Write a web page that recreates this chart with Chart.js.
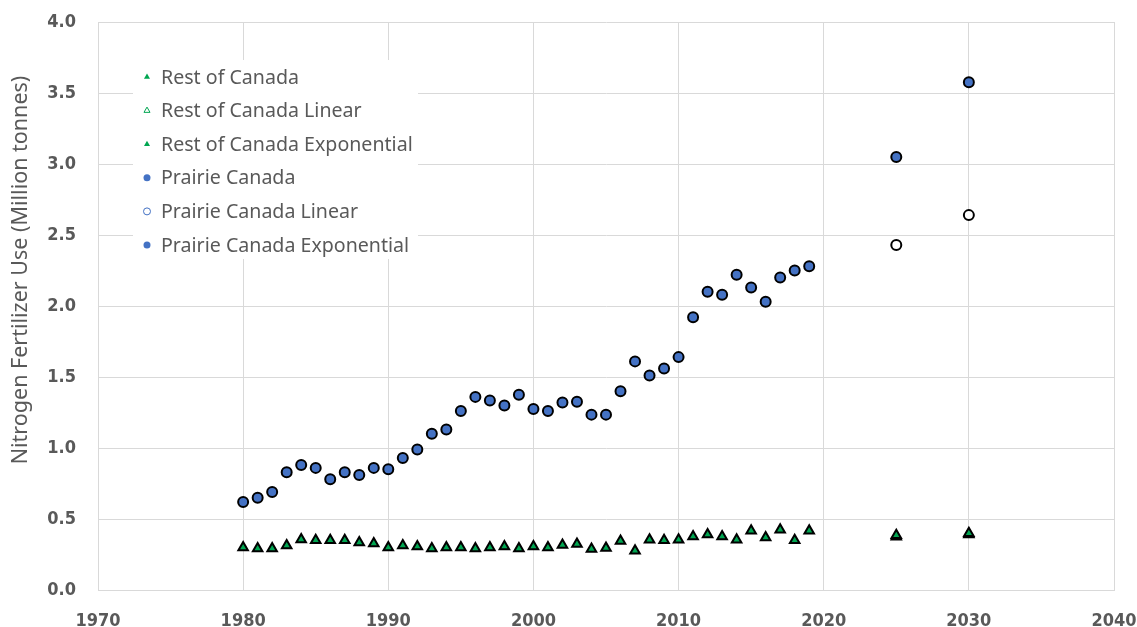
<!DOCTYPE html>
<html>
<head>
<meta charset="utf-8">
<script src="https://cdn.jsdelivr.net/npm/chart.js@4.4.1/dist/chart.umd.min.js"></script>
<style>
  html, body { margin: 0; padding: 0; background: #fff; }
  #wrap { width: 1137px; height: 627px; position: relative; }
</style>
</head>
<body>
<div id="wrap"><canvas id="fertChart"></canvas></div>
<script>
// historical years
const years = [1980, 1981, 1982, 1983, 1984, 1985, 1986, 1987, 1988, 1989,
  1990, 1991, 1992, 1993, 1994, 1995, 1996, 1997, 1998, 1999,
  2000, 2001, 2002, 2003, 2004, 2005, 2006, 2007, 2008, 2009,
  2010, 2011, 2012, 2013, 2014, 2015, 2016, 2017, 2018, 2019];

// nitrogen use, million tonnes
const prairieCanada = [0.62, 0.65, 0.69, 0.83, 0.88, 0.86, 0.78, 0.83, 0.81, 0.86,
  0.85, 0.93, 0.99, 1.10, 1.13, 1.26, 1.36, 1.335, 1.30, 1.375,
  1.275, 1.26, 1.32, 1.325, 1.235, 1.235, 1.40, 1.61, 1.51, 1.56,
  1.64, 1.92, 2.10, 2.08, 2.22, 2.13, 2.03, 2.20, 2.25, 2.28];

const restOfCanada = [0.30, 0.293, 0.293, 0.314, 0.356, 0.35, 0.35, 0.35, 0.335, 0.328,
  0.30, 0.314, 0.307, 0.293, 0.30, 0.30, 0.293, 0.30, 0.307, 0.293,
  0.307, 0.30, 0.317, 0.324, 0.289, 0.296, 0.345, 0.277, 0.354, 0.35,
  0.354, 0.377, 0.39, 0.377, 0.354, 0.418, 0.37, 0.425, 0.35, 0.418];

// projections
const projYears = [2025, 2030];
const restLinear = [0.375, 0.39];
const restExponential = [0.385, 0.40];
const prairieLinear = [2.43, 2.64];
const prairieExponential = [3.05, 3.575];

const xTicks = [1970, 1980, 1990, 2000, 2010, 2020, 2030, 2040];
const yTitle = "Nitrogen Fertilizer Use (Million tonnes)";

const green = "#00a651";
const blue = "#4472c4";
const gridColor = "#d9d9d9";
const textColor = "#595959";

function toPoints(xs, ys) {
  return xs.map((x, i) => ({ x: x, y: ys[i] }));
}

// white key box sitting on top of the gridlines, plus the y title
const keyBox = {
  id: "keyBox",
  beforeDatasetsDraw(chart) {
    const ctx = chart.ctx;
    ctx.save();
    ctx.fillStyle = "#fff";
    ctx.fillRect(133, 60, 285, 199);
    ctx.font = "19.6px 'Noto Sans', sans-serif";
    ctx.textBaseline = "middle";
    ctx.textAlign = "left";
    chart.data.datasets.forEach((ds, i) => {
      const y = 77 + i * 33.6;
      ctx.fillStyle = ds.keyFill;
      ctx.strokeStyle = ds.keyStroke;
      Chart.helpers.drawPoint(ctx, {
        pointStyle: ds.pointStyle,
        radius: 3.5,
        rotation: 0,
        borderWidth: ds.keyStroke ? 1 : 0
      }, 147, y);
      ctx.fillStyle = textColor;
      ctx.fillText(ds.label, 161, y + 1);
    });

    // axis title sits a little above the middle of the plot
    ctx.translate(21, 270);
    ctx.rotate(-Math.PI / 2);
    ctx.textAlign = "center";
    ctx.font = "21.5px 'Noto Sans', sans-serif";
    ctx.fillStyle = textColor;
    ctx.fillText(yTitle, 0, 0);
    ctx.restore();
  }
};

function series(label, data, style, fill, keyFill, keyStroke, order) {
  return {
    label: label,
    data: data,
    order: order,
    pointStyle: style,
    pointRadius: style === "triangle" ? 5.5 : 5,
    pointHoverRadius: 5,
    backgroundColor: fill,
    borderColor: "#000",
    pointBorderWidth: 2,
    showLine: false,
    keyFill: keyFill,
    keyStroke: keyStroke
  };
}

// linear projections sit underneath the exponential ones
const datasets = [
  series("Rest of Canada", toPoints(years, restOfCanada), "triangle", green, green, null, 0),
  series("Rest of Canada Linear", toPoints(projYears, restLinear), "triangle", "#fff", "#fff", green, 1),
  series("Rest of Canada Exponential", toPoints(projYears, restExponential), "triangle", green, green, null, 0),
  series("Prairie Canada", toPoints(years, prairieCanada), "circle", blue, blue, null, 0),
  series("Prairie Canada Linear", toPoints(projYears, prairieLinear), "circle", "#fff", "#fff", blue, 1),
  series("Prairie Canada Exponential", toPoints(projYears, prairieExponential), "circle", blue, blue, null, 0)
];

const tickFont = { family: "'DejaVu Sans Condensed', 'DejaVu Sans', sans-serif", size: 18, weight: "bold" };

function noEdgePadding(axis) {
  axis.paddingLeft = 0;
  axis.paddingRight = 0;
  axis.paddingTop = 0;
  axis.paddingBottom = 0;
}

new Chart(document.getElementById("fertChart"), {
  type: "scatter",
  data: { datasets: datasets },
  plugins: [keyBox],
  options: {
    responsive: true,
    maintainAspectRatio: false,
    animation: false,
    layout: { padding: { top: 22, right: 23, left: 0, bottom: 0 } },
    plugins: {
      legend: { display: false },
      tooltip: { enabled: false }
    },
    scales: {
      x: {
        type: "linear",
        min: 1970,
        max: 2040,
        afterBuildTicks: (axis) => { axis.ticks = xTicks.map(v => ({ value: v })); },
        afterFit: (axis) => { axis.height = 37; noEdgePadding(axis); },
        ticks: {
          font: tickFont,
          color: textColor,
          padding: 21,
          maxRotation: 0,
          callback: (v) => String(v)
        },
        grid: { color: gridColor, drawTicks: false },
        border: { color: gridColor }
      },
      y: {
        min: 0,
        max: 4,
        afterFit: (axis) => { axis.width = 98; noEdgePadding(axis); },
        ticks: {
          stepSize: 0.5,
          font: tickFont,
          color: textColor,
          padding: 22,
          callback: (v) => v.toFixed(1)
        },
        grid: { color: gridColor, drawTicks: false },
        border: { color: gridColor }
      }
    }
  }
});
</script>
</body>
</html>
